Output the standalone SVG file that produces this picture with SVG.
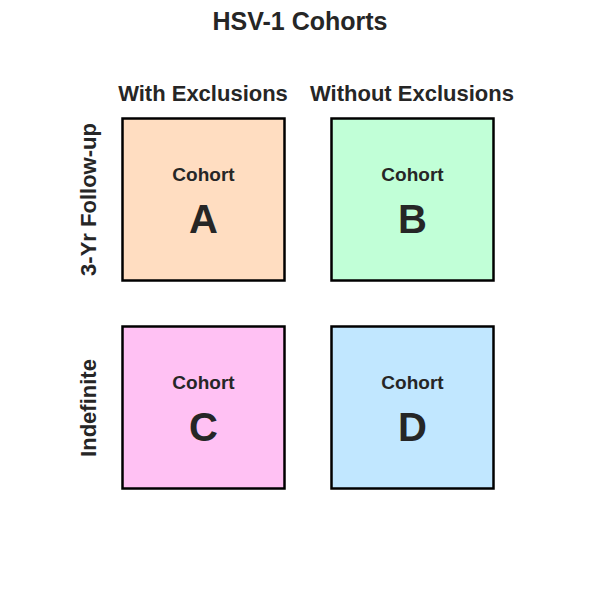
<svg xmlns="http://www.w3.org/2000/svg" width="600" height="600" viewBox="0 0 600 600">
<style>
text{font-family:"Liberation Sans",Arial,sans-serif;font-weight:bold;fill:#262626;text-anchor:middle}
.title{font-size:25px}
.hdr{font-size:22px}
.lab{font-size:19px}
.big{font-size:40px}
rect.box{stroke:#000;stroke-width:2.5}
</style>
<rect width="600" height="600" fill="#fff"/>
<text class="title" x="300" y="30">HSV-1 Cohorts</text>
<text class="hdr" x="203" y="101">With Exclusions</text>
<text class="hdr" x="412" y="101">Without Exclusions</text>
<text class="hdr" transform="translate(96,199.5) rotate(-90)">3-Yr Follow-up</text>
<text class="hdr" transform="translate(96,408) rotate(-90)">Indefinite</text>
<g id="A"><rect class="box" x="122.5" y="118.5" width="162" height="162" fill="#FFDDC1"/><text class="lab" x="203.5" y="181">Cohort</text><text class="big" x="203.5" y="233">A</text></g>
<g id="B"><rect class="box" x="331.5" y="118.5" width="162" height="162" fill="#C1FFD7"/><text class="lab" x="412.5" y="181">Cohort</text><text class="big" x="412.5" y="233">B</text></g>
<g id="C"><rect class="box" x="122.5" y="326.5" width="162" height="162" fill="#FFC1F3"/><text class="lab" x="203.5" y="389">Cohort</text><text class="big" x="203.5" y="441">C</text></g>
<g id="D"><rect class="box" x="331.5" y="326.5" width="162" height="162" fill="#C1E7FF"/><text class="lab" x="412.5" y="389">Cohort</text><text class="big" x="412.5" y="441">D</text></g>
<g id="connectors"/>
</svg>
